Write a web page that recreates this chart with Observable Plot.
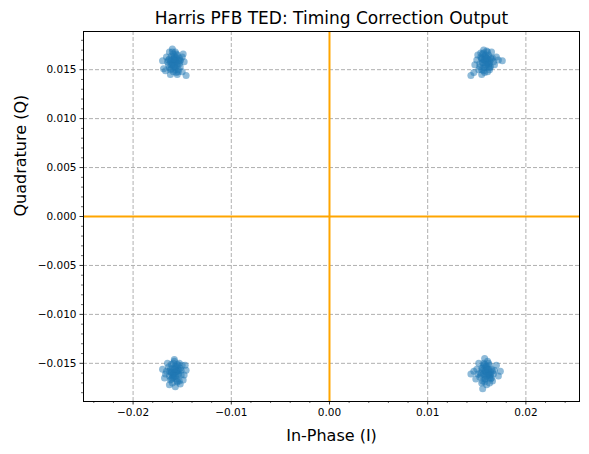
<!DOCTYPE html>
<html>
<head>
<meta charset="utf-8">
<script src="https://cdn.jsdelivr.net/npm/d3@7"></script>
<script src="https://cdn.jsdelivr.net/npm/@observablehq/plot@0.6"></script>
<style>
  html, body { margin: 0; padding: 0; background: white; }
</style>
</head>
<body>
<div id="chart"></div>
<script>
const title = "Harris PFB TED: Timing Correction Output";
const xLabel = "In-Phase (I)";
const yLabel = "Quadrature (Q)";

const xTicks = [-0.02, -0.01, 0, 0.01, 0.02];
const xMinorTicks = [-0.024, -0.022, -0.018, -0.016, -0.014, -0.012, -0.008, -0.006, -0.004, -0.002,
  0.002, 0.004, 0.006, 0.008, 0.012, 0.014, 0.016, 0.018, 0.022, 0.024];
const yTicks = [-0.015, -0.01, -0.005, 0, 0.005, 0.01, 0.015];
const yMinorTicks = [-0.018, -0.017, -0.016, -0.014, -0.013, -0.012, -0.011, -0.009, -0.008, -0.007, -0.006,
  -0.004, -0.003, -0.002, -0.001, 0.001, 0.002, 0.003, 0.004, 0.006, 0.007, 0.008, 0.009,
  0.011, 0.012, 0.013, 0.014, 0.016, 0.017, 0.018];

// Top-left cluster
const iTL = [-0.0158, -0.0161, -0.0155, -0.0163, -0.0152, -0.0159, -0.0160, -0.0157, -0.0150, -0.0149,
  -0.0167, -0.0169, -0.0146, -0.0150, -0.0165, -0.0154, -0.0162, -0.0156, -0.0166, -0.0153,
  -0.0159, -0.0164, -0.0157, -0.0161, -0.0152, -0.0170, -0.0155, -0.0148, -0.0163, -0.0158,
  -0.0156, -0.0160, -0.0158, -0.0154, -0.0162, -0.0157, -0.0159, -0.0155, -0.0161, -0.0153,
  -0.0160, -0.0156, -0.0158, -0.0163, -0.0155, -0.0157, -0.0161, -0.0159, -0.0154, -0.0162,
  -0.0156, -0.0158, -0.0160, -0.0152, -0.0164];
const qTL = [0.0157, 0.0160, 0.0154, 0.0152, 0.0159, 0.0166, 0.0171, 0.0168, 0.0163, 0.0166,
  0.0149, 0.0151, 0.0144, 0.0148, 0.0158, 0.0150, 0.0145, 0.0162, 0.0163, 0.0156,
  0.0148, 0.0155, 0.0152, 0.0164, 0.0160, 0.0159, 0.0145, 0.0158, 0.0168, 0.0160,
  0.0158, 0.0155, 0.0162, 0.0160, 0.0158, 0.0150, 0.0153, 0.0165, 0.0151, 0.0162,
  0.0157, 0.0147, 0.0164, 0.0161, 0.0156, 0.0159, 0.0155, 0.0161, 0.0148, 0.0150,
  0.0166, 0.0154, 0.0168, 0.0153, 0.0160];
// Top-right cluster
const iTR = [0.0159, 0.0155, 0.0163, 0.0157, 0.0162, 0.0160, 0.0154, 0.0166, 0.0172, 0.0176,
  0.0150, 0.0148, 0.0144, 0.0147, 0.0152, 0.0158, 0.0163, 0.0168, 0.0165, 0.0156,
  0.0161, 0.0153, 0.0167, 0.0158, 0.0151, 0.0164, 0.0170, 0.0155, 0.0161, 0.0157,
  0.0157, 0.0161, 0.0159, 0.0155, 0.0163, 0.0158, 0.0160, 0.0156, 0.0162, 0.0154,
  0.0161, 0.0157, 0.0159, 0.0164, 0.0156, 0.0158, 0.0162, 0.0160, 0.0155, 0.0163,
  0.0157, 0.0159, 0.0161, 0.0153, 0.0165];
const qTR = [0.0159, 0.0162, 0.0156, 0.0152, 0.0165, 0.0169, 0.0167, 0.0162, 0.0160, 0.0159,
  0.0160, 0.0155, 0.0144, 0.0147, 0.0150, 0.0147, 0.0150, 0.0155, 0.0168, 0.0157,
  0.0161, 0.0153, 0.0158, 0.0164, 0.0165, 0.0153, 0.0163, 0.0145, 0.0148, 0.0170,
  0.0160, 0.0157, 0.0163, 0.0161, 0.0159, 0.0152, 0.0155, 0.0166, 0.0153, 0.0163,
  0.0158, 0.0149, 0.0165, 0.0162, 0.0157, 0.0160, 0.0156, 0.0162, 0.0150, 0.0152,
  0.0167, 0.0155, 0.0168, 0.0156, 0.0161];
// Bottom-left cluster
const iBL = [-0.0157, -0.0160, -0.0154, -0.0163, -0.0151, -0.0158, -0.0161, -0.0166, -0.0168, -0.0148,
  -0.0150, -0.0155, -0.0152, -0.0160, -0.0165, -0.0146, -0.0162, -0.0156, -0.0153, -0.0164,
  -0.0159, -0.0149, -0.0167, -0.0157, -0.0154, -0.0161, -0.0170, -0.0147, -0.0158, -0.0163,
  -0.0155, -0.0159, -0.0157, -0.0153, -0.0161, -0.0156, -0.0158, -0.0154, -0.0160, -0.0152,
  -0.0159, -0.0155, -0.0157, -0.0162, -0.0154, -0.0156, -0.0160, -0.0158, -0.0153, -0.0161,
  -0.0155, -0.0157, -0.0159, -0.0151, -0.0163];
const qBL = [-0.0159, -0.0155, -0.0162, -0.0163, -0.0157, -0.0148, -0.0151, -0.0158, -0.0165, -0.0162,
  -0.0152, -0.0168, -0.0171, -0.0170, -0.0150, -0.0157, -0.0167, -0.0153, -0.0150, -0.0154,
  -0.0164, -0.0167, -0.0161, -0.0174, -0.0157, -0.0159, -0.0156, -0.0152, -0.0146, -0.0172,
  -0.0158, -0.0161, -0.0155, -0.0157, -0.0159, -0.0166, -0.0163, -0.0152, -0.0165, -0.0155,
  -0.0160, -0.0169, -0.0153, -0.0156, -0.0161, -0.0158, -0.0162, -0.0156, -0.0168, -0.0166,
  -0.0151, -0.0163, -0.0150, -0.0162, -0.0158];
// Bottom-right cluster
const iBR = [0.0160, 0.0156, 0.0164, 0.0158, 0.0152, 0.0150, 0.0144, 0.0147, 0.0163, 0.0168,
  0.0172, 0.0166, 0.0160, 0.0155, 0.0153, 0.0161, 0.0157, 0.0170, 0.0162, 0.0154,
  0.0158, 0.0165, 0.0149, 0.0167, 0.0159, 0.0156, 0.0163, 0.0151, 0.0174, 0.0158,
  0.0158, 0.0162, 0.0160, 0.0156, 0.0164, 0.0159, 0.0161, 0.0157, 0.0163, 0.0155,
  0.0162, 0.0158, 0.0160, 0.0165, 0.0157, 0.0159, 0.0163, 0.0161, 0.0156, 0.0164,
  0.0158, 0.0160, 0.0162, 0.0154, 0.0166];
const qBR = [-0.0159, -0.0155, -0.0162, -0.0166, -0.0150, -0.0156, -0.0161, -0.0158, -0.0152, -0.0157,
  -0.0163, -0.0168, -0.0172, -0.0170, -0.0164, -0.0148, -0.0150, -0.0152, -0.0156, -0.0160,
  -0.0162, -0.0165, -0.0166, -0.0161, -0.0153, -0.0176, -0.0170, -0.0161, -0.0158, -0.0145,
  -0.0158, -0.0161, -0.0155, -0.0157, -0.0159, -0.0166, -0.0163, -0.0152, -0.0165, -0.0155,
  -0.0160, -0.0169, -0.0153, -0.0156, -0.0161, -0.0158, -0.0162, -0.0156, -0.0168, -0.0166,
  -0.0151, -0.0163, -0.0150, -0.0162, -0.0158];

const points = [];
[[iTL, qTL], [iTR, qTR], [iBL, qBL], [iBR, qBR]].forEach(([is, qs]) => {
  is.forEach((v, k) => points.push({I: v, Q: qs[k]}));
});

const fmt = (digits) => (d) => (d < 0 ? "\u2212" : "") + Math.abs(d).toFixed(digits);

const chart = Plot.plot({
  width: 589,
  height: 454,
  marginLeft: 83,
  marginRight: 10,
  marginTop: 31,
  marginBottom: 53,
  style: {fontFamily: "DejaVu Sans, sans-serif", fontSize: "10.5px", background: "white", color: "black"},
  x: {domain: [-0.02505, 0.02546]},
  y: {domain: [-0.0189, 0.0189]},
  marks: [
    Plot.gridX(xTicks, {stroke: "#b0b0b0", strokeOpacity: 1, strokeWidth: 1, strokeDasharray: "4,2"}),
    Plot.gridY(yTicks, {stroke: "#b0b0b0", strokeOpacity: 1, strokeWidth: 1, strokeDasharray: "4,2"}),
    Plot.ruleX([0], {stroke: "orange", strokeWidth: 2}),
    Plot.ruleY([0], {stroke: "orange", strokeWidth: 2}),
    Plot.dot(points, {x: "I", y: "Q", r: 3.5, fill: "#1f77b4", fillOpacity: 0.5, stroke: "none"}),
    Plot.frame({stroke: "black", strokeWidth: 1}),
    Plot.axisX(xTicks, {tickSize: 3.5, tickPadding: 3.5, tickFormat: fmt(2), label: null, strokeWidth: 0.8}),
    Plot.axisX(xMinorTicks, {tickSize: 2, tickFormat: () => "", label: null, strokeWidth: 0.6}),
    Plot.axisY(yTicks, {tickSize: 3.5, tickPadding: 3.5, tickFormat: fmt(3), label: null, strokeWidth: 0.8}),
    Plot.axisY(yMinorTicks, {tickSize: 2, tickFormat: () => "", label: null, strokeWidth: 0.6}),
    Plot.text([title], {frameAnchor: "top", lineAnchor: "middle", dy: -13, fontSize: 17, text: d => d}),
    Plot.text([xLabel], {frameAnchor: "bottom", lineAnchor: "middle", dy: 34, fontSize: 16, text: d => d}),
    Plot.text([yLabel], {frameAnchor: "left", lineAnchor: "middle", dx: -63, rotate: -90, fontSize: 16, text: d => d})
  ]
});
document.getElementById("chart").appendChild(chart);
</script>
</body>
</html>
